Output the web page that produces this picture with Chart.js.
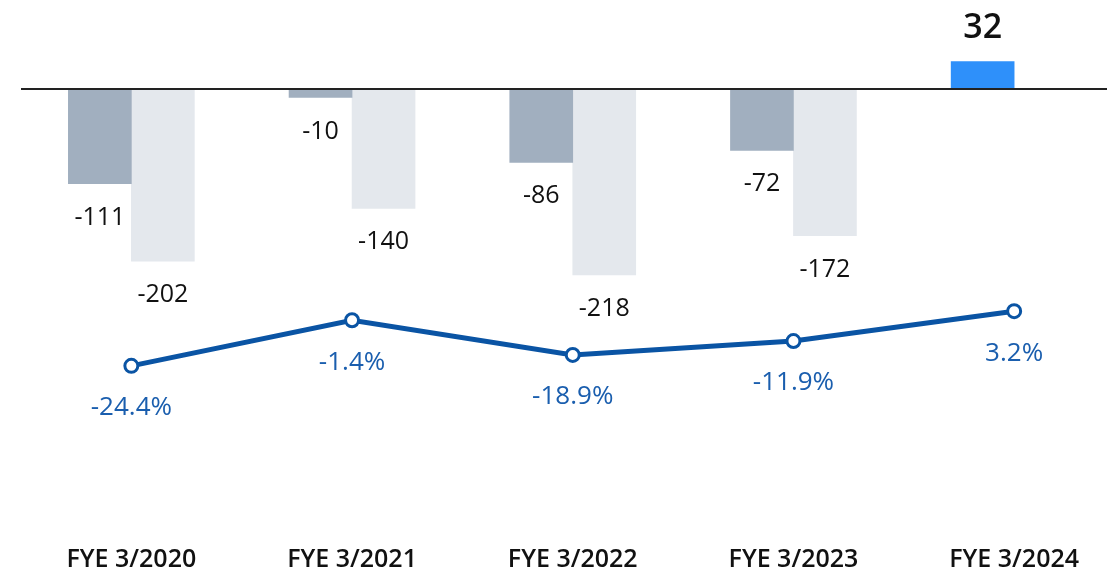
<!DOCTYPE html>
<html>
<head>
<meta charset="utf-8">
<script src="https://cdn.jsdelivr.net/npm/chart.js@4.4.1/dist/chart.umd.min.js"></script>
<style>
  html, body { margin: 0; padding: 0; background: #fff; overflow: hidden; }
  #wrap { position: relative; width: 1134px; height: 585px; }
</style>
</head>
<body>
<div id="wrap"><canvas id="chart"></canvas></div>
<script>
'use strict';

const categories = ['FYE 3/2020', 'FYE 3/2021', 'FYE 3/2022', 'FYE 3/2023', 'FYE 3/2024'];
const seriesA = [-111, -10, -86, -72, 32];
const seriesB = [-202, -140, -218, -172, null];
const ratePct = [-24.4, -1.4, -18.9, -11.9, 3.2];

const FONT = '"Open Sans", "Noto Sans", sans-serif';
const barColorsA = seriesA.map((v, i) => i === seriesA.length - 1 ? '#2e90fa' : '#a1afbf');

const labelPlugin = {
    id: 'labels',
    afterDatasetsDraw(chart) {
        const ctx = chart.ctx;
        const y = chart.scales.y;
        const area = chart.chartArea;
        // zero line
        ctx.save();
        ctx.strokeStyle = '#222';
        ctx.lineWidth = 2;
        const zy = Math.round(y.getPixelForValue(0));
        ctx.beginPath();
        ctx.moveTo(area.left, zy);
        ctx.lineTo(area.right, zy);
        ctx.stroke();

        ctx.textAlign = 'center';
        ctx.textBaseline = 'middle';
        chart.data.datasets.forEach((ds, di) => {
            const meta = chart.getDatasetMeta(di);
            meta.data.forEach((el, i) => {
                const v = ds.data[i];
                if (v === null || v === undefined) return;
                if (ds.type === 'line') {
                    ctx.font = '26px ' + FONT;
                    ctx.fillStyle = '#1a5eae';
                    ctx.fillText(v.toFixed(1) + '%', el.x, el.y + 42);
                } else if (v < 0) {
                    ctx.font = '25px ' + FONT;
                    ctx.fillStyle = '#111';
                    ctx.fillText(String(v), el.x, el.y + 34);
                } else {
                    ctx.font = '600 34px ' + FONT;
                    ctx.fillStyle = '#111';
                    ctx.fillText(String(v), el.x, el.y - 33);
                }
            });
        });
        ctx.restore();
    }
};

new Chart(document.getElementById('chart'), {
    data: {
        labels: categories,
        datasets: [
            {
                type: 'line',
                data: ratePct,
                yAxisID: 'y2',
                borderColor: '#0a54a4',
                borderWidth: 5,
                pointRadius: 6.5,
                pointBorderWidth: 3,
                pointBackgroundColor: '#fff',
                pointBorderColor: '#0a54a4',
                order: 0
            },
            {
                type: 'bar',
                data: seriesA,
                yAxisID: 'y',
                backgroundColor: barColorsA,
                barThickness: 63,
                order: 1
            },
            {
                type: 'bar',
                data: seriesB,
                yAxisID: 'y',
                backgroundColor: '#e4e8ed',
                barThickness: 63,
                order: 2
            }
        ]
    },
    options: {
        responsive: true,
        maintainAspectRatio: false,
        animation: false,
        layout: { padding: { left: 21, right: 0, top: 0, bottom: 0 } },
        plugins: { legend: { display: false }, tooltip: { enabled: false } },
        scales: {
            x: {
                grid: { display: false },
                border: { display: false },
                ticks: {
                    color: '#111',
                    font: { family: FONT, size: 25, weight: 600 },
                    padding: 10
                }
            },
            y: { display: false, min: -513.7, max: 93.2 },
            y2: { display: false, min: -105.7, max: 155.4 }
        }
    },
    plugins: [labelPlugin]
});
</script>
</body>
</html>
